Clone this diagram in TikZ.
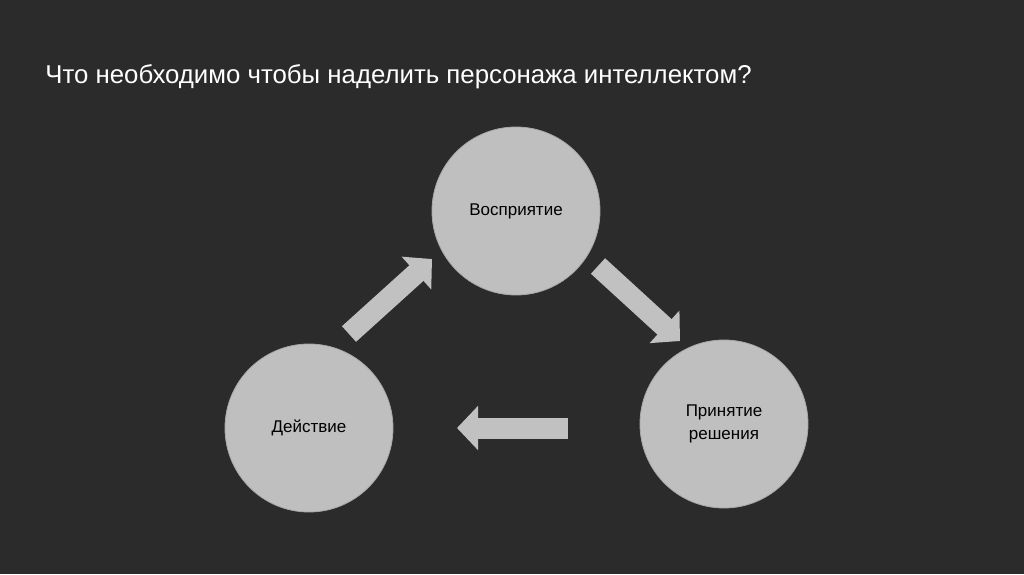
\documentclass[tikz,border=0pt]{standalone}
\usepackage{fontspec}
\setmainfont{Liberation Sans}
\usetikzlibrary{arrows.meta}
\definecolor{slideBg}{HTML}{2B2B2B}
\definecolor{circleGray}{HTML}{BFBFBF}
\definecolor{arrowGray}{HTML}{C1C1C1}

\begin{document}
\begin{tikzpicture}[
  x=0.5pt, y=-0.5pt,
  stageCircle/.style={circle, fill=circleGray, draw=circleGray!88!black, line width=0.4pt, minimum size=84pt, inner sep=0pt, align=center, text=black, font=\fontsize{8.5}{11.5}\selectfont},
  blockArrow/.style={arrowGray, line width=10.5pt, -{Triangle[width=21.5pt, length=10.5pt]}},
  titleText/.style={anchor=base west, inner sep=0pt, text=white, font=\fontsize{12.9}{15}\selectfont}
]
% slide background
\fill[slideBg] (0,0) rectangle (1024,574);
\useasboundingbox (0,0) rectangle (1024,574);

\node[titleText] (title) at (45,83) {Что необходимо чтобы наделить персонажа интеллектом?};

% the three stages
\node[stageCircle] (perception) at (516,211) {Восприятие};
\node[stageCircle] (decision) at (724,424) {Принятие\\решения};
\node[stageCircle] (action) at (309,428) {Действие};

% arrow ends
\coordinate (actTail) at (349,334);
\coordinate (percTip) at (432,259);
\coordinate (percTail) at (598,266);
\coordinate (decTip) at (680,341);
\coordinate (decTail) at (568,428);
\coordinate (actTip) at (457,428);

\draw[blockArrow] (actTail) -- (percTip);
\draw[blockArrow] (percTail) -- (decTip);
\draw[blockArrow] (decTail) -- (actTip);
\end{tikzpicture}
\end{document}
